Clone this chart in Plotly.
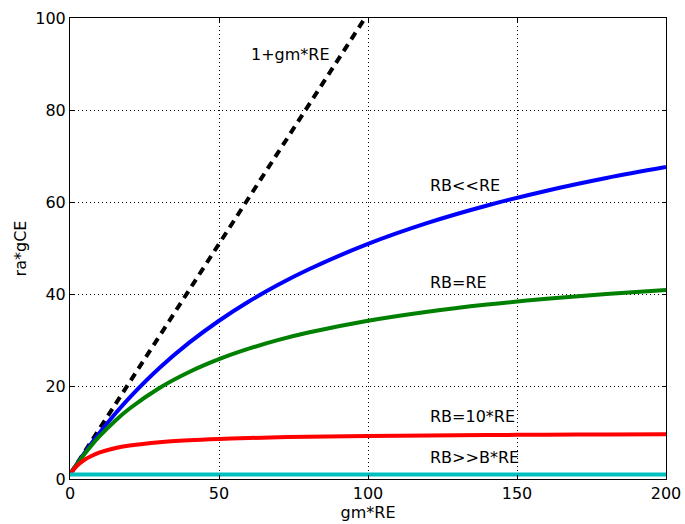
import plotly.graph_objects as go

# gm*RE sample points
x_vals = [0, 1, 2, 3, 5, 7, 10, 15, 20, 30, 40, 50, 60, 70, 80, 100, 120, 140, 160, 180, 200]
# RB<<RE (blue)
rb_small = [1.0, 1.99, 2.96, 3.91, 5.76, 7.54, 10.09, 14.04, 17.67, 24.08, 29.57, 34.33, 38.5, 42.18, 45.44,
            51.0, 55.55, 59.33, 62.54, 65.29, 67.67]
# RB=RE (green)
rb_equal = [1.0, 1.98, 2.92, 3.83, 5.55, 7.14, 9.33, 12.54, 15.29, 19.75, 23.22, 26.0, 28.27, 30.17, 31.77,
            34.33, 36.29, 37.84, 39.10, 40.13, 41.0]
# RB=10*RE (red)
rb_ten = [1.0, 1.9, 2.64, 3.26, 4.23, 4.95, 5.76, 6.66, 7.25, 7.98, 8.41, 8.69, 8.89, 9.05, 9.16,
          9.33, 9.45, 9.54, 9.60, 9.65, 9.70]
# RB>>B*RE (cyan)
rb_large = [1.0] * len(x_vals)
# 1+gm*RE (black dashed)
ideal_x = [0, 99]
ideal_y = [1, 100]

labels = ["1+gm*RE", "RB<<RE", "RB=RE", "RB=10*RE", "RB>>B*RE"]
label_x = [60, 120, 120, 120, 120]
label_y = [90.5, 62, 41, 12, 3]

fig = go.Figure()
fig.add_trace(go.Scatter(x=ideal_x, y=ideal_y, mode="lines",
                         line=dict(color="black", width=4, dash="8px,6px")))
fig.add_trace(go.Scatter(x=x_vals, y=rb_small, mode="lines", line_shape="spline",
                         line=dict(color="#0000FF", width=4)))
fig.add_trace(go.Scatter(x=x_vals, y=rb_equal, mode="lines", line_shape="spline",
                         line=dict(color="#008000", width=4)))
fig.add_trace(go.Scatter(x=x_vals, y=rb_ten, mode="lines", line_shape="spline",
                         line=dict(color="#FF0000", width=4)))
fig.add_trace(go.Scatter(x=x_vals, y=rb_large, mode="lines",
                         line=dict(color="#00BFBF", width=4)))

for t, lx, ly in zip(labels, label_x, label_y):
    fig.add_annotation(x=lx, y=ly, text=t, showarrow=False, xanchor="left", yanchor="bottom",
                       yshift=-4, font=dict(size=16, color="black"))

axis_common = dict(showline=True, linecolor="black", linewidth=1, mirror="ticks",
                   ticks="inside", ticklen=4, tickcolor="black", automargin=False,
                   showgrid=True, gridcolor="black", griddash="1px,3px", gridwidth=1,
                   zeroline=False, tickfont=dict(size=16, color="black"))

fig.update_xaxes(range=[0, 200], tickvals=[0, 50, 100, 150, 200],
                 title=dict(text="gm*RE", font=dict(size=16, color="black"), standoff=0),
                 **axis_common)
fig.update_yaxes(range=[0, 100], tickvals=[0, 20, 40, 60, 80, 100],
                 title=dict(text="ra*gCE", font=dict(size=16, color="black"), standoff=4),
                 **axis_common)

fig.update_layout(width=685, height=524, showlegend=False,
                  plot_bgcolor="white", paper_bgcolor="white",
                  font=dict(family="DejaVu Sans", color="black"),
                  margin=dict(l=70, r=19, t=18, b=45))

# remove the default page margin so the figure sits at the window's top-left corner
fig.write_html("out.html", config={"displayModeBar": False},
               post_script="document.body.style.margin='0';document.body.style.overflow='hidden';")
